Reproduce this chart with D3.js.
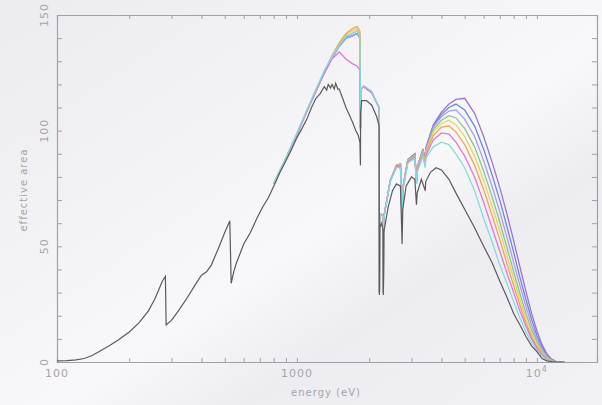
<!DOCTYPE html>
<html>
<head>
<meta charset="utf-8">
<script src="https://cdn.jsdelivr.net/npm/d3@7"></script>
<style>
  body { margin: 0; background: #eeeef2; }
  text { font-family: "DejaVu Sans", sans-serif; fill: #a4a4ac; }
</style>
</head>
<body>
<div id="chart"></div>
<script>
// black curve: full energy range (eV) and effective area
const blackE = [100, 110, 120, 130, 140, 150, 165, 180, 200, 220, 240, 255, 265, 275, 283, 285,
  300, 320, 350, 380, 400, 420, 440, 470, 500, 525, 532, 545, 560, 580, 600, 640, 680, 720,
  760, 800, 850, 900, 950, 1000, 1050, 1100, 1150, 1200, 1250, 1300, 1330, 1350, 1380, 1400,
  1430, 1450, 1480, 1500, 1550, 1600, 1650, 1700, 1760, 1800, 1830, 1839, 1842, 1860, 1950,
  2050, 2150, 2200, 2206, 2212, 2250, 2285, 2291, 2300, 2400, 2500, 2600, 2700, 2743, 2760,
  2850, 3000, 3100, 3148, 3170, 3300, 3425, 3440, 3600, 3800, 4000, 4300, 4600, 5000, 5500,
  6000, 6500, 7000, 7500, 8000, 8500, 9000, 9500, 10000, 10500, 11000, 11500, 12000, 13000];
const blackA = [0.5, 0.6, 0.9, 1.5, 2.8, 4.5, 7, 9.5, 13, 17, 22, 27, 31, 35, 37, 16,
  18, 22, 28, 34, 37.5, 39, 42, 49, 56, 61, 34, 39, 43, 47, 51, 56, 62, 67,
  71, 76, 82, 87, 92, 97, 101, 105, 110, 114, 116, 119, 117.5, 120, 118.5, 120,
  118, 120.5, 118, 118, 114, 110, 107, 104, 100, 98, 95, 85, 108, 113, 113,
  111, 106, 102, 29, 58, 60, 57, 29, 56, 67, 74, 77, 76, 51, 66,
  76, 80, 79, 68, 73, 79, 74, 78, 82, 84, 83, 79, 73, 66, 58,
  50, 43, 35, 28, 21, 16, 11, 7, 4.5, 1.5, 0.5, 0.2, 0, 0];

// coloured curves share this energy grid
const colE = [800, 900, 1000, 1100, 1200, 1300, 1400, 1500, 1600, 1700, 1780, 1830, 1839, 1842,
  1900, 2050, 2200, 2206, 2212, 2285, 2291, 2300, 2450, 2600, 2700, 2743, 2760, 2900, 3100,
  3148, 3170, 3350, 3425, 3440, 3700, 4000, 4300, 4600, 5000, 5500, 6000, 6500, 7000, 7500,
  8000, 8500, 9000, 9500, 10000, 10500, 11000, 11500, 12000, 13000];

const purpleA = [77, 88, 98.5, 108.5, 117, 125, 131.5, 136.5, 140, 141, 142, 140, 101, 118,
  119, 116.5, 110, 30, 64, 63.5, 30, 62.5, 78.5, 85, 85.5, 60, 75, 87.5, 90,
  78, 84, 92, 87, 92.5, 102.5, 108, 111.5, 113.5, 114, 107.5, 97.5, 86.5, 75.5, 64,
  52.5, 41, 30.5, 21, 13.5, 7.5, 3.5, 1.3, 0.3, 0];
const blueA = [77, 88, 98.5, 108.5, 117, 125, 131.5, 136.5, 140, 141, 142, 140, 101, 118,
  119, 116.5, 110, 30, 64, 63.5, 30, 62.5, 78.5, 85, 85.5, 60, 75, 87.5, 90,
  78, 84, 92, 87, 92, 102, 107, 110, 111.5, 109, 102, 92, 81, 70, 58.5,
  47.5, 36.5, 27, 18.5, 11.5, 6.5, 3, 1.1, 0.3, 0];
const violetA = [77, 88, 98.5, 108.5, 117, 125, 131.5, 136.5, 140, 141, 142, 140, 101, 118,
  119, 116.5, 110, 30, 64, 63.5, 30, 62.5, 78.5, 85, 85.5, 60, 75, 87.5, 89.5,
  78, 84, 91.5, 86.5, 91.5, 101.5, 106, 108.5, 109, 105, 97.5, 87, 76, 65, 54,
  43, 33, 24, 16, 10, 5.5, 2.5, 0.9, 0.2, 0];
const greenA = [77, 88, 98.5, 108.5, 117.5, 125, 132, 137, 140.5, 142, 143, 141, 101, 118,
  119, 116.5, 110, 30, 64, 63.5, 30, 62.5, 78.5, 85, 85.5, 60, 75, 87.5, 89.5,
  78, 83.5, 91, 86, 91, 100.5, 104.5, 106.5, 105.5, 101, 93, 82.5, 71.5, 60.5, 49.5,
  39, 29.5, 21, 14, 8.5, 4.5, 2, 0.7, 0.1, 0];
const yellowA = [77, 88, 98.5, 108.5, 117.5, 125.5, 132, 137.5, 141.5, 143, 144, 142, 101, 118,
  119, 116.5, 110, 30, 64, 63.5, 30, 62.5, 78.5, 85, 85, 60, 75, 87, 89,
  77.5, 83, 90.5, 85.5, 90.5, 99.5, 103, 104.5, 102.5, 97.5, 89, 78.5, 67.5, 57, 46,
  36, 27, 19, 12.5, 7.5, 4, 1.8, 0.6, 0.1, 0];
const orangeA = [77, 88, 98.5, 108.5, 117.5, 125.5, 132.5, 138, 142, 144, 145, 143, 101, 118,
  119, 116.5, 110, 30, 64, 63.5, 30, 62.5, 78.5, 85, 85, 60, 75, 87, 89,
  77.5, 83, 90, 85, 90, 98, 101.5, 102, 99.5, 94, 85, 74.5, 63.5, 53, 42.5,
  33, 24.5, 17, 11, 6.5, 3.5, 1.5, 0.5, 0, 0];
const magentaA = [77, 88, 98.5, 108.5, 117.5, 125, 131, 134, 131, 129, 128, 126, 100, 118,
  119, 116.5, 110, 30, 64, 63.5, 30, 62.5, 78.5, 84.5, 84.5, 60, 74.5, 86.5, 88.5,
  77, 82.5, 89.5, 84.5, 89, 96, 99, 98.5, 95, 89, 80, 69, 58, 48, 38.5,
  30, 22, 15.5, 10, 6, 3, 1.2, 0.4, 0, 0];
const cyanA = [77, 88.5, 99, 109, 118, 126, 132, 137, 141, 142, 143, 141, 100, 118,
  119.5, 117, 110, 30, 64, 63, 30, 62, 78, 84, 84, 60, 74, 86, 88,
  77, 82, 89, 84, 88, 93, 95, 94, 90, 84, 74, 62, 52, 42, 34,
  26, 19, 13, 8.5, 5, 2.5, 1, 0.3, 0, 0];

const colSeries = [
  { vals: purpleA, color: "#9b72d8" },
  { vals: blueA, color: "#6f84e4" },
  { vals: violetA, color: "#a69ef0" },
  { vals: greenA, color: "#86c888" },
  { vals: yellowA, color: "#e9d35c" },
  { vals: orangeA, color: "#f0a452" },
  { vals: magentaA, color: "#de78dc" },
  { vals: cyanA, color: "#80dede" }
];

const yTicksMajor = [0, 50, 100, 150];
const xTickLabels = [{ v: 100, t: "100" }, { v: 1000, t: "1000" }, { v: 10000, t: "10", sup: "4" }];

const width = 602, height = 405;
const margin = { top: 15, right: 5, bottom: 43, left: 57 };

const svg = d3.select("#chart").append("svg")
    .attr("width", width)
    .attr("height", height);

// background wash
const defs = svg.append("defs");
const grad = defs.append("linearGradient")
    .attr("id", "bg")
    .attr("x1", "0%").attr("y1", "0%")
    .attr("x2", "100%").attr("y2", "100%");
grad.append("stop").attr("offset", "0%").attr("stop-color", "#ececf0");
grad.append("stop").attr("offset", "35%").attr("stop-color", "#f3f3f6");
grad.append("stop").attr("offset", "55%").attr("stop-color", "#f8f8fa");
grad.append("stop").attr("offset", "70%").attr("stop-color", "#ededf1");
grad.append("stop").attr("offset", "100%").attr("stop-color", "#f2f2f5");
svg.append("rect").attr("width", width).attr("height", height).attr("fill", "url(#bg)");

const x = d3.scaleLog()
    .domain([100, 17800])
    .range([margin.left, width - margin.right]);
const y = d3.scaleLinear()
    .domain([0, 150])
    .range([height - margin.bottom, margin.top]);

const axisColor = "#a0a0a8";

// minor/major x ticks
const xMinor = [];
for (let d = 100; d <= 10000; d *= 10) {
  for (let k = 1; k <= 9; k++) {
    if (d * k <= 17800) xMinor.push(d * k);
  }
}
const yMinor = d3.range(0, 151, 10);

const gx = svg.append("g")
    .attr("transform", `translate(0,${y(0)})`)
    .call(d3.axisBottom(x).tickValues(xMinor).tickSize(-4).tickFormat(""));
const gxTop = svg.append("g")
    .attr("transform", `translate(0,${y(150)})`)
    .call(d3.axisTop(x).tickValues(xMinor).tickSize(-4).tickFormat(""));
const gy = svg.append("g")
    .attr("transform", `translate(${x(100)},0)`)
    .call(d3.axisLeft(y).tickValues(yMinor).tickSize(-5).tickFormat(""));
const gyR = svg.append("g")
    .attr("transform", `translate(${x(17800)},0)`)
    .call(d3.axisRight(y).tickValues(yMinor).tickSize(-5).tickFormat(""));

[gx, gxTop, gy, gyR].forEach(g => {
  g.selectAll("path").attr("stroke", axisColor).attr("stroke-width", 1.2);
  g.selectAll("line").attr("stroke", axisColor);
});

// curves
const line = d3.line()
    .x(d => x(d[0]))
    .y(d => y(d[1]));

colSeries.forEach(s => {
  svg.append("path")
      .datum(colE.map((e, i) => [e, s.vals[i]]))
      .attr("fill", "none")
      .attr("stroke", s.color)
      .attr("stroke-width", 1.3)
      .attr("d", line);
});

svg.append("path")
    .datum(blackE.map((e, i) => [e, blackA[i]]))
    .attr("fill", "none")
    .attr("stroke", "#5a5a5e")
    .attr("stroke-width", 1.2)
    .attr("d", line);

// tick labels
svg.selectAll("text.ylab")
    .data(yTicksMajor)
    .enter()
    .append("text")
    .attr("class", "ylab")
    .attr("transform", d => `translate(${x(100) - 9},${y(d)}) rotate(-90)`)
    .attr("text-anchor", "middle")
    .attr("font-size", 11)
    .attr("letter-spacing", 1)
    .text(d => d);

const xl = svg.selectAll("text.xlab")
    .data(xTickLabels)
    .enter()
    .append("text")
    .attr("class", "xlab")
    .attr("x", d => x(d.v))
    .attr("y", y(0) + 15)
    .attr("text-anchor", "middle")
    .attr("font-size", 11)
    .attr("letter-spacing", 1);
xl.append("tspan").text(d => d.t);
xl.filter(d => d.sup).append("tspan")
    .attr("dy", -5)
    .attr("font-size", 8)
    .text(d => d.sup);

svg.append("text")
    .attr("x", 326)
    .attr("y", 396)
    .attr("text-anchor", "middle")
    .attr("font-size", 10)
    .attr("letter-spacing", 1)
    .text("energy (eV)");

svg.append("text")
    .attr("transform", `translate(27,190) rotate(-90)`)
    .attr("text-anchor", "middle")
    .attr("font-size", 10)
    .attr("letter-spacing", 1)
    .text("effective area");
</script>
</body>
</html>
